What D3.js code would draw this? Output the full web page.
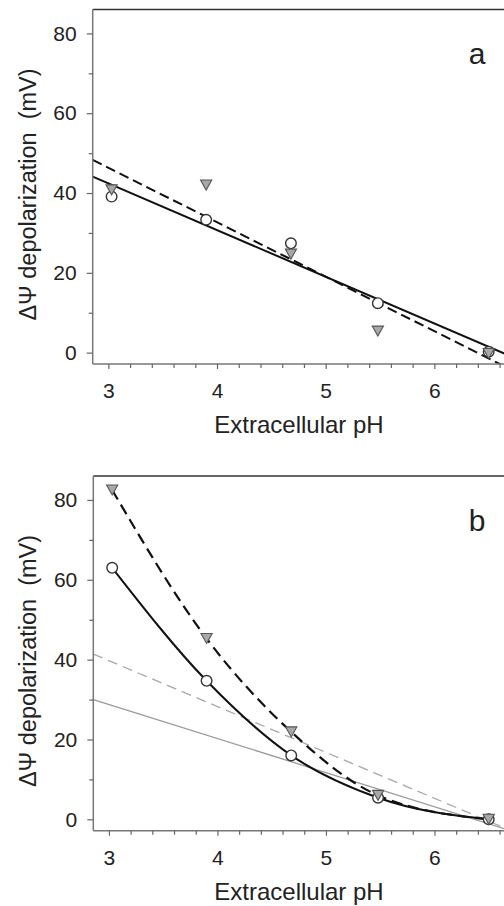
<!DOCTYPE html>
<html>
<head>
<meta charset="utf-8">
<script src="https://cdn.jsdelivr.net/npm/d3@7"></script>
<style>
  html, body { margin: 0; padding: 0; background: #fff; }
  svg { display: block; }
  text { font-family: "Liberation Sans", Arial, sans-serif; fill: #222; }
</style>
</head>
<body>
<svg id="chart" width="504" height="906"></svg>
<script>
// ---- data ----
const pH = [3.03, 3.9, 4.68, 5.48, 6.5];
const aCircles = [39.1, 33.3, 27.4, 12.4, 0.2];
const aTriangles = [40.8, 42.0, 24.7, 5.4, -0.2];
const bCircles = [63.0, 34.7, 16.0, 5.4, 0.0];
const bTriangles = [82.5, 45.3, 21.9, 6.0, 0.0];
// straight fitted lines: value at left and right edge of the plot
const fitX = [2.856, 6.65];
const aSolidFit = [44.1, -0.3];
const aDashedFit = [48.3, -3.5];
const bGraySolidFit = [30.0, -2.4];
const bGrayDashedFit = [41.4, -2.2];
const xTickValues = [3, 4, 5, 6];
const yTickValues = [0, 20, 40, 60, 80];
const xMinorValues = [3.2, 3.4, 3.6, 3.8, 4.2, 4.4, 4.6, 4.8, 5.2, 5.4, 5.6, 5.8, 6.2, 6.4, 6.6];
const yMinorValues = [10, 30, 50, 70];
const xTitle = "Extracellular pH";
const yTitle = "\u0394\u03A8 depolarization\u00A0\u00A0(mV)";
const panelLetters = ["a", "b"];

const svg = d3.select("#chart");

function drawPanel(cfg) {
  const g = svg.append("g");
  const x = d3.scaleLinear().domain([2.856, 6.65]).range([cfg.left, 505]);
  const y = d3.scaleLinear().domain([-2.85, 86]).range([cfg.bottom, cfg.top]);
  const clipId = "clip" + cfg.id;
  svg.append("clipPath").attr("id", clipId)
    .append("rect").attr("x", cfg.left).attr("y", cfg.top)
    .attr("width", 505 - cfg.left).attr("height", cfg.bottom - cfg.top);

  const plot = g.append("g").attr("clip-path", `url(#${clipId})`);

  // straight lines
  cfg.straight.forEach(s => {
    const pts = fitX.map((v, i) => [v, s.vals[i]]);
    plot.append("path")
      .attr("d", d3.line().x(d => x(d[0])).y(d => y(d[1]))(pts))
      .attr("fill", "none").attr("stroke", s.color)
      .attr("stroke-width", s.width)
      .attr("stroke-dasharray", s.dash || null);
  });
  // curves
  (cfg.curves || []).forEach(s => {
    const pts = pH.map((v, i) => [v, s.vals[i]]);
    plot.append("path")
      .attr("d", d3.line().curve(d3.curveMonotoneX).x(d => x(d[0])).y(d => y(d[1]))(pts))
      .attr("fill", "none").attr("stroke", s.color)
      .attr("stroke-width", s.width)
      .attr("stroke-dasharray", s.dash || null);
  });

  // markers
  g.selectAll(null).data(pH.map((v, i) => [v, cfg.circles[i]])).join("circle")
    .attr("cx", d => x(d[0])).attr("cy", d => y(d[1])).attr("r", 5.3)
    .attr("fill", "#fff").attr("stroke", "#333").attr("stroke-width", 1.4);
  const tri = "M-5.6,-5L5.6,-5L0,5Z";
  g.selectAll(null).data(pH.map((v, i) => [v, cfg.triangles[i]])).join("path")
    .attr("d", tri)
    .attr("transform", d => `translate(${x(d[0])},${y(d[1])})`)
    .attr("fill", "#a8a8a8").attr("stroke", "#555").attr("stroke-width", 1.1);

  // frame
  g.append("line").attr("x1", cfg.left).attr("x2", 504)
    .attr("y1", cfg.top).attr("y2", cfg.top)
    .attr("stroke", "#333").attr("stroke-width", 1.5);
  g.append("line").attr("x1", cfg.left).attr("x2", cfg.left)
    .attr("y1", cfg.top).attr("y2", cfg.bottom)
    .attr("stroke", "#777").attr("stroke-width", 1.5);
  g.append("line").attr("x1", cfg.left).attr("x2", 504)
    .attr("y1", cfg.bottom).attr("y2", cfg.bottom)
    .attr("stroke", "#777").attr("stroke-width", 1.5);

  // x axis ticks
  const xa = g.append("g").attr("transform", `translate(0,${cfg.bottom})`)
    .call(d3.axisBottom(x).tickValues(xTickValues).tickSize(5).tickPadding(14).tickFormat(d3.format("d")));
  xa.select(".domain").remove();
  xa.selectAll("line").attr("stroke", "#666").attr("stroke-width", 1.2);
  xa.selectAll("text").attr("font-size", 21).attr("fill", "#222");
  const xm = g.append("g").attr("transform", `translate(0,${cfg.bottom})`)
    .call(d3.axisBottom(x).tickValues(xMinorValues).tickSize(4).tickFormat(""));
  xm.select(".domain").remove();
  xm.selectAll("line").attr("stroke", "#666").attr("stroke-width", 1.2);

  // y axis ticks
  const ya = g.append("g").attr("transform", `translate(${cfg.left},0)`)
    .call(d3.axisLeft(y).tickValues(yTickValues).tickSize(6).tickPadding(10).tickFormat(d3.format("d")));
  ya.select(".domain").remove();
  ya.selectAll("line").attr("stroke", "#666").attr("stroke-width", 1.2);
  ya.selectAll("text").attr("font-size", 21).attr("fill", "#222");
  const ym = g.append("g").attr("transform", `translate(${cfg.left},0)`)
    .call(d3.axisLeft(y).tickValues(yMinorValues).tickSize(4).tickFormat(""));
  ym.select(".domain").remove();
  ym.selectAll("line").attr("stroke", "#666").attr("stroke-width", 1.2);

  // titles
  g.append("text").attr("x", 299).attr("y", cfg.bottom + 69)
    .attr("text-anchor", "middle").attr("font-size", 24).text(xTitle);
  g.append("text")
    .attr("transform", `translate(36,${cfg.top + 185}) rotate(-90)`)
    .attr("text-anchor", "middle").attr("font-size", 23.5).text(yTitle);
  g.append("text").attr("x", 477).attr("y", cfg.top + cfg.letterDy)
    .attr("text-anchor", "middle").attr("font-size", 30).text(cfg.letter);
}

drawPanel({
  id: "a", left: 92.7, top: 9.5, bottom: 364, letter: panelLetters[0], letterDy: 54,
  circles: aCircles, triangles: aTriangles,
  straight: [
    { vals: aSolidFit, color: "#111", width: 2 },
    { vals: aDashedFit, color: "#111", width: 2, dash: "10,5" }
  ]
});

drawPanel({
  id: "b", left: 93.3, top: 476, bottom: 830.7, letter: panelLetters[1], letterDy: 55,
  circles: bCircles, triangles: bTriangles,
  straight: [
    { vals: bGraySolidFit, color: "#9a9a9a", width: 1.3 },
    { vals: bGrayDashedFit, color: "#a8a8a8", width: 1.3, dash: "10,6" }
  ],
  curves: [
    { vals: bCircles, color: "#111", width: 2 },
    { vals: bTriangles, color: "#111", width: 2.2, dash: "11,6" }
  ]
});
</script>
</body>
</html>
